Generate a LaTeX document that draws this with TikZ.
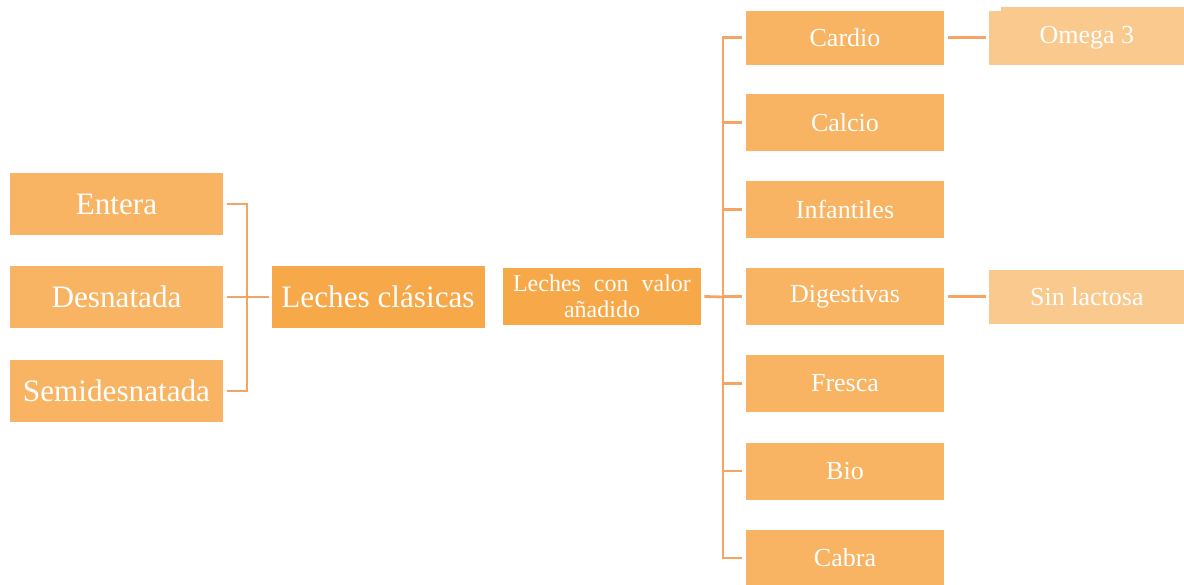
\documentclass[tikz,border=0pt]{standalone}
\usepackage{fontspec}
\setmainfont{Liberation Serif}
\usetikzlibrary{positioning,calc}
\definecolor{boxc}{RGB}{248,180,98}
\definecolor{darkc}{RGB}{247,168,72}
\definecolor{lightc}{RGB}{250,201,142}
\definecolor{linkc}{RGB}{246,164,100}
\tikzset{
  box/.style={fill=boxc, text=white, align=center, inner sep=0pt,
              minimum width=99pt, minimum height=28.5pt, font=\fontsize{13}{15}\selectfont},
  bigbox/.style={box, minimum width=106.5pt, minimum height=31pt,
                 font=\fontsize{15.6}{18}\selectfont},
  midbox/.style={box, fill=darkc},
  subbox/.style={box, fill=lightc, minimum width=97.5pt, minimum height=27pt},
  link/.style={linkc, line width=1.4pt},
}

\begin{document}
\begin{tikzpicture}[x=0.5pt, y=-0.5pt]
\useasboundingbox (0,0) rectangle (1184,584);

% ---------------------------------------------------------------- classic milks
\node[bigbox] (entera) at (116.5,204) {Entera};
\node[bigbox] (desnat) at (116.5,297) {Desnatada};
\node[bigbox] (semi) at (116.5,391) {Semidesnatada};
\node[bigbox, fill=darkc] (clasicas) at (378,297) {Leches clásicas};

\coordinate (lj) at (247,297);
\draw[link] ([xshift=2pt]entera.east) -| (lj) |- ([xshift=2pt]semi.east);
\draw[link] ([xshift=2pt]desnat.east) -- ([xshift=-1pt]clasicas.west);

% ---------------------------------------------------------------- added value
\node[midbox, font=\fontsize{12}{13}\selectfont] (valor) at (602,296.5)
  {{\spaceskip=6.5pt Leches con valor}\\ añadido};

% ---------------------------------------------------------------- right column
\node[box, minimum height=27pt] (cardio) at (845,37.5) {Cardio};
\node[box] (calcio) at (845,122.5) {Calcio};
\node[box] (infant) at (845,209.5) {Infantiles};
\node[box] (digest) at (845,296.5) {Digestivas};
\node[box] (fresca) at (845,383.5) {Fresca};
\node[box] (bio) at (845,471) {Bio};
\node[box] (cabra) at (845,558) {Cabra};

\coordinate (rj) at (723,297);
\draw[link] ([xshift=-2pt]cardio.west) -| (rj |- cabra.west) -- ([xshift=-2pt]cabra.west);
\foreach \n in {calcio,infant,digest,fresca,bio}
  \draw[link] (rj |- \n.west) -- ([xshift=-2pt]\n.west);
\draw[link] ([xshift=1.5pt]valor.east) -- (rj);

% ---------------------------------------------------------------- sub-types
\fill[lightc] (1001,7) rectangle (1184,60);
\node[subbox, anchor=west] (omega) at (989,37.5) {Omega 3};
\node[subbox, anchor=west] (sinlac) at (989,296.5) {Sin lactosa};
\draw[link] ([xshift=2pt]cardio.east) -- ([xshift=-1.5pt]omega.west);
\draw[link] ([xshift=2pt]digest.east) -- ([xshift=-1.5pt]sinlac.west);

\end{tikzpicture}
\end{document}
